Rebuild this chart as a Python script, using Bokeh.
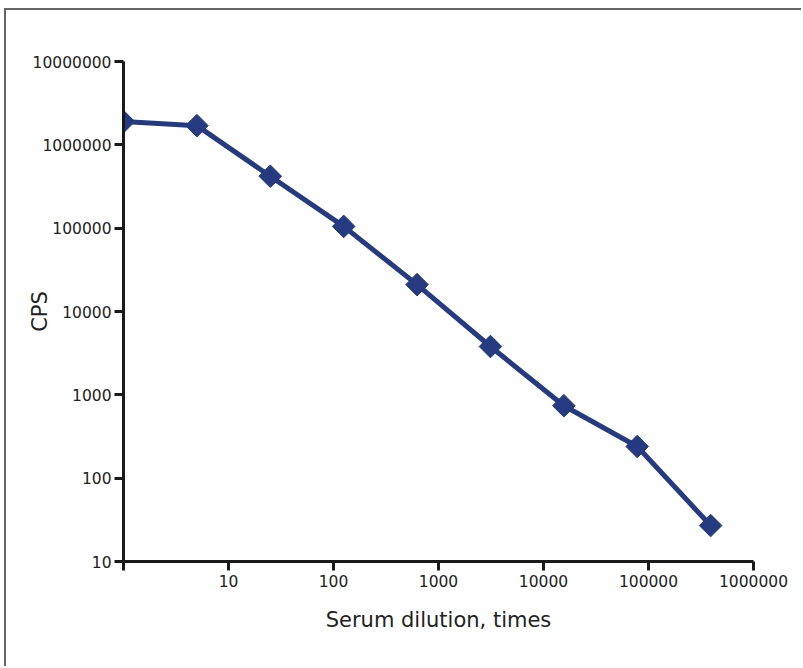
import math
from bokeh.plotting import figure
from bokeh.models import FixedTicker, Range1d
from bokeh.embed import file_html
from bokeh.resources import INLINE

# Data
dilution = [1, 5, 25, 125, 625, 3125, 15625, 78125, 390625]
cps = [1.9e6, 1.7e6, 4.2e5, 1.05e5, 2.1e4, 3.8e3, 740, 240, 27]

x_ticks = [1, 10, 100, 1000, 10000, 100000, 1000000]
x_tick_labels = ["", "10", "100", "1000", "10000", "100000", "1000000"]
y_ticks = [10, 100, 1000, 10000, 100000, 1000000, 10000000]
y_tick_labels = ["10", "100", "1000", "10000", "100000", "1000000", "10000000"]

x_label = "Serum dilution, times"
y_label = "CPS"

color = "#253a80"
FONT = "DejaVu Sans"

p = figure(width=797, height=658, x_axis_type="log", y_axis_type="log",
           x_range=Range1d(1, 1e6), y_range=Range1d(10, 1e7),
           output_backend="svg", toolbar_location=None,
           min_border_left=117, min_border_right=50, min_border_top=51,
           min_border_bottom=107)
p.styles = {"border-top": "2px solid #666666", "border-left": "2px solid #666666",
            "margin-left": "4px", "margin-top": "8px"}

p.line(dilution, cps, line_color=color, line_width=5)
p.scatter(dilution, cps, marker="square", size=16, angle=math.pi / 4,
          fill_color=color, line_color=color)

p.xgrid.visible = False
p.ygrid.visible = False
p.outline_line_color = None

for ax in (p.xaxis[0], p.yaxis[0]):
    ax.axis_line_width = 3
    ax.axis_line_color = "#1a1a1a"
    ax.major_tick_line_width = 3
    ax.major_tick_line_color = "#1a1a1a"
    ax.major_tick_out = 9
    ax.major_tick_in = 0
    ax.minor_tick_line_color = None
    ax.major_label_text_font = FONT
    ax.major_label_text_font_size = "15.5px"
    ax.major_label_text_color = "#222222"
    ax.axis_label_text_font = FONT
    ax.axis_label_text_font_size = "21px"
    ax.axis_label_text_font_style = "normal"
    ax.axis_label_text_color = "#222222"

p.xaxis.ticker = FixedTicker(ticks=x_ticks)
p.yaxis.ticker = FixedTicker(ticks=y_ticks)
p.xaxis.major_label_overrides = {t: l for t, l in zip(x_ticks, x_tick_labels)}
p.yaxis.major_label_overrides = {t: l for t, l in zip(y_ticks, y_tick_labels)}
p.xaxis.axis_label = x_label
p.yaxis.axis_label = y_label
p.xaxis.major_label_standoff = 4
p.yaxis.major_label_standoff = 3
p.xaxis.axis_label_standoff = 18
p.yaxis.axis_label_standoff = -22

open("out.html", "w").write(file_html(p, INLINE))
